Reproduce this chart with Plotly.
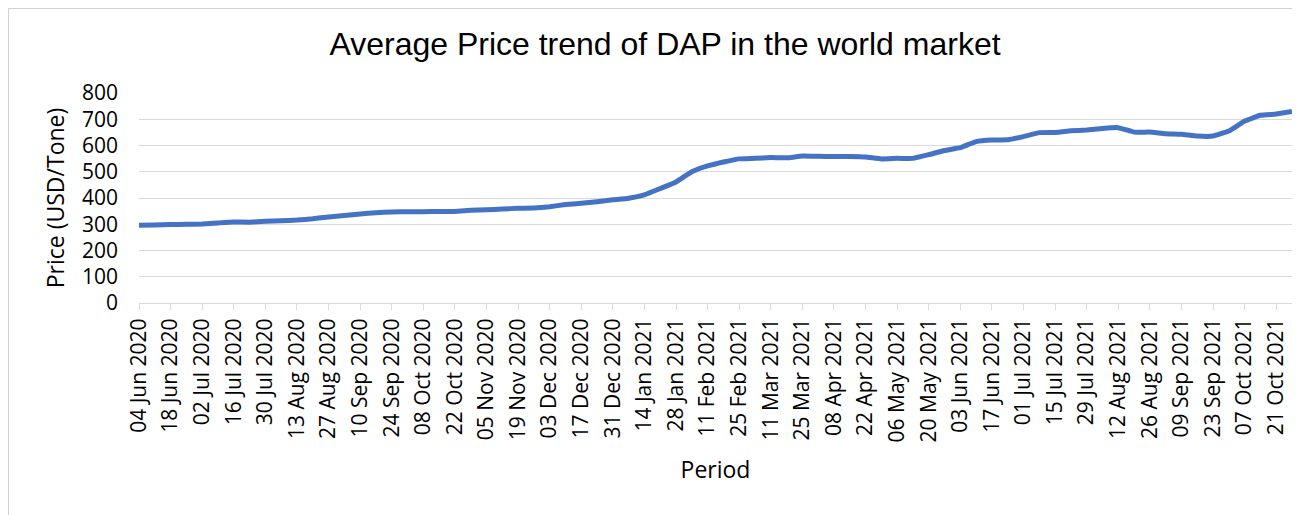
import plotly.graph_objects as go
import pandas as pd

# Weekly average DAP price (USD/Tone), 04 Jun 2020 .. 28 Oct 2021
start_date = "2020-06-04"
n_weeks = 74
prices = [
    296, 297, 299, 300, 301, 305, 309, 308, 311, 313,
    316, 321, 328, 333, 339, 344, 347, 348, 348, 349,
    349, 353, 355, 358, 361, 362, 367, 375, 380, 386,
    393, 399, 412, 436, 461, 500, 522, 537, 549, 551,
    554, 553, 560, 559, 558, 558, 556, 549, 551, 551,
    565, 581, 592, 615, 621, 622, 634, 649, 650, 656,
    659, 665, 668, 651, 651, 645, 643, 636, 636, 655,
    693, 715, 720, 730,
]
dates = pd.date_range(start_date, periods=n_weeks, freq="7D")
tick_dates = pd.date_range(start_date, "2021-10-21", freq="14D")
tick_labels = [d.strftime("%d %b %Y") for d in tick_dates]
y_ticks = [0, 100, 200, 300, 400, 500, 600, 700, 800]

title_text = "Average Price trend of DAP in the world market"
x_title = "Period"
y_title = "Price (USD/Tone)"

# the page body has an 8px margin, so the figure is offset by 8px
OFF = 8
W, H = 1300 - OFF, 515 - OFF
L, T = 139 - OFF, 93 - OFF
R = W - (1292 - OFF)
B = H - (303 - OFF)
pw, ph = W - L - R, H - T - B

fig = go.Figure()
fig.add_trace(go.Scatter(
    x=dates, y=prices, mode="lines",
    line=dict(color="#4472C4", width=5, shape="spline", smoothing=0.3),
    showlegend=False, hoverinfo="x+y",
))

# chart-area frame
fig.add_shape(type="rect", xref="paper", yref="paper", layer="below",
              x0=(0.5 - L) / pw, x1=(1297 - OFF - L) / pw,
              y0=-(H + 20 - (H - B)) / ph, y1=(H - B - 0.5) / ph,
              fillcolor="white", line=dict(color="#d0d0d0", width=1))

fig.update_layout(
    width=W, height=H,
    margin=dict(l=L, r=R, t=T, b=B, autoexpand=False),
    paper_bgcolor="white", plot_bgcolor="white",
    font=dict(family="Open Sans", size=21, color="#000000"),
    title=dict(text=title_text, x=(665 - OFF) / W, xref="container", xanchor="center",
               y=1 - (44 - OFF) / H, yref="container", yanchor="middle",
               font=dict(family="Liberation Sans, Arial", size=32, color="#000000")),
    xaxis=dict(
        type="date", range=[dates[0], dates[-1]],
        tickmode="array", tickvals=tick_dates, ticktext=tick_labels,
        tickangle=-90, ticks="outside", ticklen=6, tickcolor="#d9d9d9",
        showline=True, linecolor="#d9d9d9", linewidth=1,
        showgrid=False, zeroline=False, automargin=False,
        tickfont=dict(family="Open Sans", size=21, color="#000000"),
        title=dict(text=x_title, standoff=20,
                   font=dict(family="Open Sans", size=23, color="#000000")),
    ),
    yaxis=dict(
        range=[0, 800], tickmode="array", tickvals=y_ticks,
        showgrid=True, gridcolor="#d9d9d9", gridwidth=1,
        zeroline=False, showline=False, ticks="", automargin=False,
        ticklabelstandoff=20,
        tickfont=dict(family="Open Sans", size=21, color="#000000"),
        title=dict(text=y_title, standoff=10,
                   font=dict(family="Open Sans", size=23, color="#000000")),
    ),
)

fig.write_html("out.html")
